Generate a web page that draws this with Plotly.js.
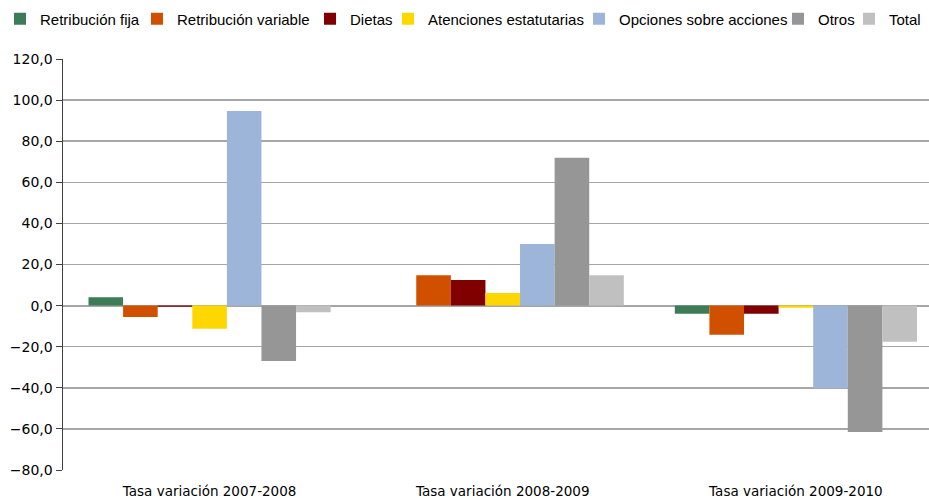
<!DOCTYPE html>
<html><head><meta charset="utf-8">
<script src="https://cdn.plot.ly/plotly-3.0.1.min.js"></script>
<style>body{margin:0;background:#fff}#c{width:929px;height:498px}</style>
</head><body><div id="c"></div>
<script>
const categories = ["Tasa variación 2007-2008", "Tasa variación 2008-2009", "Tasa variación 2009-2010"];
const seriesNames = ["Retribución fija", "Retribución variable", "Dietas", "Atenciones estatutarias", "Opciones sobre acciones", "Otros", "Total"];
const retribucionFija = [4.1, 0.0, -4.0];
const retribucionVariable = [-5.5, 14.8, -14.2];
const dietas = [-0.6, 12.4, -4.0];
const atenciones = [-11.3, 6.1, -1.1];
const opciones = [94.7, 30.0, -40.4];
const otros = [-26.9, 72.0, -61.5];
const total = [-3.2, 14.8, -17.6];
const colors = ["#3e7b57", "#d05000", "#800000", "#ffd700", "#9db5d8", "#969696", "#c0c0c0"];
const values = [retribucionFija, retribucionVariable, dietas, atenciones, opciones, otros, total];

// legend entry text start positions (px, container)
const legendTextStart = [40, 177, 350, 428, 619, 818, 889];

const W = 929, H = 498;
const traces = values.map((v, i) => ({
  type: 'bar', x: categories, y: v, name: seriesNames[i],
  legend: i === 0 ? 'legend' : 'legend' + (i + 1),
  marker: {color: colors[i], line: {width: 0}}, hoverinfo: 'none'
}));

const layout = {
  width: W, height: H,
  margin: {l: 63, r: 0, t: 59, b: 28, autoexpand: false},
  paper_bgcolor: '#fff', plot_bgcolor: '#fff',
  separators: ',.',
  barmode: 'group', bargap: 0.174, bargroupgap: 0,
  font: {family: 'DejaVu Sans', size: 13, color: '#000'},
  showlegend: true,
  xaxis: {range: [-0.5, 2.454], showgrid: false, zeroline: false, showline: false,
    ticks: '', ticklabelstandoff: 11, tickfont: {size: 13.5, family: 'DejaVu Sans', color: '#000'}, fixedrange: true},
  yaxis: {range: [-80, 120], dtick: 20, tick0: 0, tickformat: '.1f',
    showgrid: true, gridcolor: '#a6a6a6', gridwidth: 1.5,
    zeroline: true, zerolinecolor: '#a6a6a6', zerolinewidth: 2,
    showline: true, linecolor: '#404040', linewidth: 1.5,
    ticks: 'outside', ticklen: 6, tickcolor: '#404040', tickwidth: 1,
    tickfont: {size: 14, family: 'DejaVu Sans', color: '#000'}, fixedrange: true}
};
legendTextStart.forEach((xs, i) => {
  const key = i === 0 ? 'legend' : 'legend' + (i + 1);
  layout[key] = {
    xref: 'container', yref: 'container',
    x: (xs - 40) / W, xanchor: 'left',
    y: 1 - 19 / H, yanchor: 'middle',
    bgcolor: 'rgba(0,0,0,0)', borderwidth: 0,
    orientation: 'h', itemwidth: 30,
    font: {family: 'Liberation Sans', size: 15, color: '#000'}
  };
});
Plotly.newPlot('c', traces, layout, {displayModeBar: false, staticPlot: true});
</script></body></html>
